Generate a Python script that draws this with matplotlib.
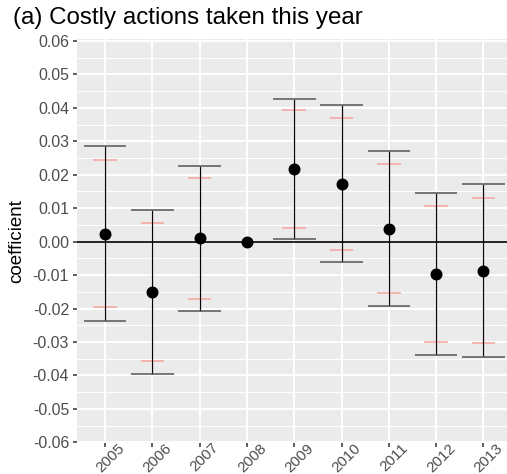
import numpy as np
import matplotlib
matplotlib.use("Agg")
import matplotlib.pyplot as plt
from matplotlib.transforms import ScaledTranslation

plt.rcParams['font.family'] = ['Liberation Sans', 'DejaVu Sans']

years = ["2005", "2006", "2007", "2008", "2009", "2010", "2011", "2012", "2013"]
coef = [0.0024, -0.0151, 0.0010, 0.0, 0.0217, 0.0173, 0.0039, -0.0097, -0.0087]
ci95_low = [-0.0236, -0.0397, -0.0207, np.nan, 0.0008, -0.0062, -0.0193, -0.0338, -0.0344]
ci95_high = [0.0285, 0.0095, 0.0227, np.nan, 0.0427, 0.0409, 0.0270, 0.0144, 0.0171]
ci90_low = [-0.0195, -0.0357, -0.0172, np.nan, 0.0042, -0.0025, -0.0155, -0.0299, -0.0304]
ci90_high = [0.0243, 0.0055, 0.0191, np.nan, 0.0393, 0.0370, 0.0233, 0.0106, 0.0130]
yticks = [-0.06, -0.05, -0.04, -0.03, -0.02, -0.01, 0.00, 0.01, 0.02, 0.03, 0.04, 0.05, 0.06]

W, H = 507, 474
fig = plt.figure(figsize=(W / 100, H / 100), dpi=100)
left, right, top, bottom = 76.7, 511.8, 39.3, 442.6
ax = fig.add_axes([left / W, 1 - bottom / H, (right - left) / W, (bottom - top) / H])
ax.set_facecolor('#EBEBEB')
for s in ax.spines.values():
    s.set_visible(False)

x = np.arange(len(years))
ax.set_xlim(-0.6, len(years) - 1 + 0.6)
ax.set_ylim(-0.0601, 0.0605)

# grid: major and minor in white
ax.set_yticks(yticks)
ax.set_yticks(np.arange(-0.055, 0.06, 0.01), minor=True)
ax.set_xticks(x)
ax.grid(which='major', color='white', linewidth=1.4)
ax.grid(which='minor', axis='y', color='white', linewidth=0.7)
ax.set_axisbelow(True)

ax.axhline(0, color='black', linewidth=1.2, zorder=2)

c = np.array(coef)
lo95, hi95 = np.array(ci95_low), np.array(ci95_high)
lo90, hi90 = np.array(ci90_low), np.array(ci90_high)
ok = ~np.isnan(lo95)

# 90% interval caps
ax.hlines(lo90[ok], x[ok] - 0.25, x[ok] + 0.25, color='#F4A49E', linewidth=1.1, zorder=3)
ax.hlines(hi90[ok], x[ok] - 0.25, x[ok] + 0.25, color='#F4A49E', linewidth=1.1, zorder=3)
# 95% interval whiskers and caps
ax.vlines(x[ok], lo95[ok], hi95[ok], color='#0d0505', linewidth=0.9, zorder=4)
ax.hlines(lo95[ok], x[ok] - 0.45, x[ok] + 0.45, color='#555555', linewidth=1.1, zorder=4)
ax.hlines(hi95[ok], x[ok] - 0.45, x[ok] + 0.45, color='#555555', linewidth=1.1, zorder=4)

ax.plot(x, c, 'o', color='black', markersize=7.6, zorder=5)

ax.set_yticklabels([f"{v:.2f}" for v in yticks])
ax.set_xticklabels(years, rotation=45, ha='center', va='top')
ax.tick_params(axis='both', which='major', length=3, width=1.1, color='#333333',
               labelcolor='#4D4D4D', labelsize=11.4, pad=2.5)
ax.tick_params(axis='x', which='major', labelsize=11.0, pad=0)
for lbl in ax.get_xticklabels():
    lbl.set_transform(lbl.get_transform() + ScaledTranslation(5 / 100, 6 / 100, fig.dpi_scale_trans))
ax.tick_params(axis='y', which='minor', length=0)

ax.set_ylabel('coefficient', fontsize=13.5, color='black', labelpad=5)
fig.text(13 / W, 1 - 18 / H, '(a) Costly actions taken this year', fontsize=17.4,
         color='black', ha='left', va='center')

fig.savefig('out.png', dpi=100)
